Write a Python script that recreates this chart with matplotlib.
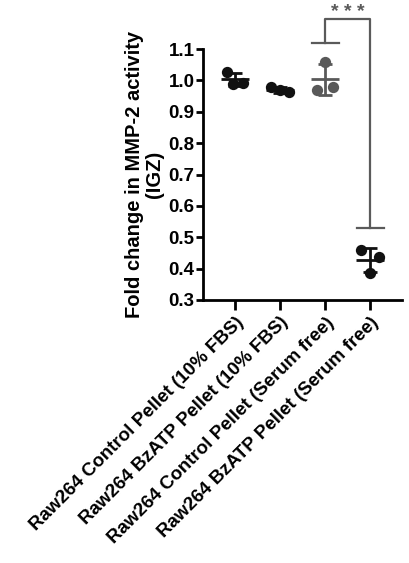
import matplotlib
matplotlib.use("Agg")
import matplotlib.pyplot as plt
import numpy as np

plt.rcParams['font.family'] = ['Liberation Sans', 'DejaVu Sans']
plt.rcParams['font.weight'] = 'bold'

categories = ["Raw264 Control Pellet (10% FBS)",
              "Raw264 BzATP Pellet (10% FBS)",
              "Raw264 Control Pellet (Serum free)",
              "Raw264 BzATP Pellet (Serum free)"]
points = [[1.027, 0.990, 0.992],
          [0.980, 0.968, 0.962],
          [1.060, 0.970, 0.980],
          [0.459, 0.437, 0.386]]
jitter = [[-0.18, -0.04, 0.18],
          [-0.2, 0.0, 0.2],
          [0.0, -0.18, 0.18],
          [-0.2, 0.2, 0.0]]
colors = ["#111111", "#111111", "#595959", "#111111"]
yticks = [0.3, 0.4, 0.5, 0.6, 0.7, 0.8, 0.9, 1.0, 1.1]

fig = plt.figure(figsize=(4.09, 5.63), dpi=100)
ax = fig.add_axes([203/409, 1-300/563, 199/409, 251/563])

for i, (vals, jit, c) in enumerate(zip(points, jitter, colors)):
    vals = np.array(vals)
    xs = i + np.array(jit)
    ax.scatter(xs, vals, s=66, color=c, zorder=3, linewidths=0)
    m = vals.mean()
    sd = vals.std(ddof=1)
    ax.plot([i-0.31, i+0.31], [m, m], color=c, lw=2, zorder=4, solid_capstyle='butt')
    ax.errorbar([i], [m], yerr=[sd], color=c, lw=2, capsize=5, capthick=2, zorder=4, fmt='none')

ax.set_xlim(-0.7, 3.7)
ax.set_ylim(0.3, 1.1)
ax.set_yticks(yticks)
ax.set_yticklabels([f"{t:.1f}" for t in yticks], fontsize=13.5, fontweight='bold')
ax.set_xticks(range(4))
ax.set_xticklabels(categories, rotation=45, ha='right', rotation_mode='anchor',
                   fontsize=13.5, fontweight='bold')
for s in ['top', 'right']:
    ax.spines[s].set_visible(False)
for s in ['left', 'bottom']:
    ax.spines[s].set_linewidth(2)
ax.tick_params(axis='y', width=2, length=5, pad=1)
ax.tick_params(axis='x', width=2, length=7, pad=3)
ax.set_ylabel("Fold change in MMP-2 activity\n(IGZ)", fontsize=14.5, fontweight='bold',
              linespacing=1.1, labelpad=3)

# significance bracket
gray = "#5a5a5a"
top = 1.196
ax.plot([2, 2, 3, 3], [1.12, top, top, 0.53], color=gray, lw=1.6, clip_on=False)
ax.plot([1.7, 2.3], [1.12, 1.12], color=gray, lw=1.6, clip_on=False)
ax.plot([2.7, 3.3], [0.53, 0.53], color=gray, lw=1.6, clip_on=False)
ax.text(2.5, 1.201, "* * *", ha='center', va='baseline', fontsize=14, color=gray,
        fontweight='bold', zorder=5)

fig.savefig("out.png", dpi=100)
